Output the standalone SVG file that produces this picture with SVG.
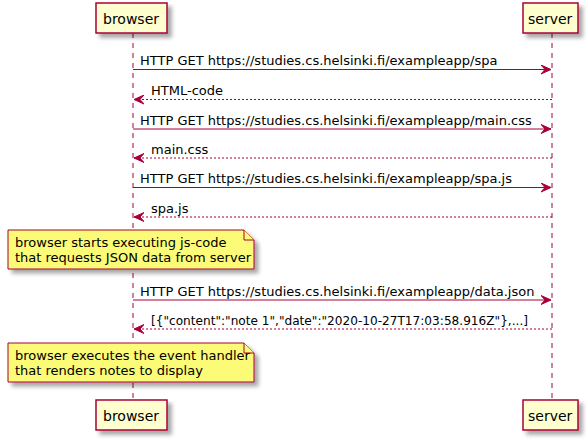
<svg xmlns="http://www.w3.org/2000/svg" width="588" height="441" viewBox="0 0 588 441">
<defs>
<filter id="sh" x="-10%" y="-10%" width="130%" height="150%">
<feGaussianBlur in="SourceAlpha" stdDeviation="2"/>
<feOffset dx="4" dy="4" result="b"/>
<feComponentTransfer><feFuncA type="linear" slope="0.35"/></feComponentTransfer>
<feMerge><feMergeNode/><feMergeNode in="SourceGraphic"/></feMerge>
</filter>
<marker id="ah" viewBox="0 0 11 10" refX="10" refY="5" markerWidth="11" markerHeight="10" markerUnits="userSpaceOnUse" orient="auto">
<polygon points="0,0.5 10,5 0,9.5 4,5" fill="#A80036" stroke="#A80036" stroke-width="1"/>
</marker>
</defs>
<style>
.life{stroke:#A80036;stroke-width:1;stroke-dasharray:5,5;fill:none}
.box{fill:#FEFECE;stroke:#A80036;stroke-width:1.5}
.note{fill:#FBFB77;stroke:#A80036;stroke-width:1}
.pt{font-family:"DejaVu Sans",sans-serif;font-size:14px;fill:#000}
.t{font-family:"DejaVu Sans",sans-serif;font-size:13px;fill:#000}
.msg{stroke:#A80036;stroke-width:1;fill:none;marker-end:url(#ah)}
.ret{stroke:#A80036;stroke-width:1;fill:none;stroke-dasharray:2,2;marker-end:url(#ah)}
</style>
<rect width="588" height="441" fill="#FFFFFF"/>
<g id="lifelines">
<line class="life" x1="133" y1="33" x2="133" y2="400"/>
<line class="life" x1="552" y1="33" x2="552" y2="400"/>
</g>
<g id="browser">
<rect class="box" x="96" y="3" width="71" height="30" filter="url(#sh)"/>
<text class="pt" x="103" y="23.5">browser</text>
</g>
<g id="server">
<rect class="box" x="523" y="3" width="55" height="30" filter="url(#sh)"/>
<text class="pt" x="528" y="23.5">server</text>
</g>
<g id="browser-bottom">
<rect class="box" x="96" y="400" width="71" height="30" filter="url(#sh)"/>
<text class="pt" x="103" y="421">browser</text>
</g>
<g id="server-bottom">
<rect class="box" x="523" y="400" width="55" height="30" filter="url(#sh)"/>
<text class="pt" x="528" y="421">server</text>
</g>
<g id="connectors">
<line class="msg" x1="133" y1="69.5" x2="551" y2="69.5"/>
<text class="t" x="140" y="65">HTTP GET https://studies.cs.helsinki.fi/exampleapp/spa</text>
<line class="ret" x1="552" y1="99.5" x2="134" y2="99.5"/>
<text class="t" x="151" y="94.5">HTML-code</text>
<line class="msg" x1="133" y1="129" x2="551" y2="129"/>
<text class="t" x="140" y="124.5">HTTP GET https://studies.cs.helsinki.fi/exampleapp/main.css</text>
<line class="ret" x1="552" y1="158" x2="134" y2="158"/>
<text class="t" x="151" y="153.5">main.css</text>
<line class="msg" x1="133" y1="187.5" x2="551" y2="187.5"/>
<text class="t" x="140" y="183">HTTP GET https://studies.cs.helsinki.fi/exampleapp/spa.js</text>
<line class="ret" x1="552" y1="217" x2="134" y2="217"/>
<text class="t" x="151" y="212.5">spa.js</text>
<line class="msg" x1="133" y1="300" x2="551" y2="300"/>
<text class="t" x="140" y="295.5">HTTP GET https://studies.cs.helsinki.fi/exampleapp/data.json</text>
<line class="ret" x1="552" y1="329" x2="134" y2="329"/>
<text class="t" x="151" y="324.5" textLength="377" lengthAdjust="spacingAndGlyphs">[{"content":"note 1","date":"2020-10-27T17:03:58.916Z"},...]</text>
</g>
<g id="note1">
<path class="note" d="M8,230 L244,230 L254,240 L254,269 L8,269 Z" filter="url(#sh)"/>
<path class="note" d="M244,230 L244,240 L254,240"/>
<text class="t" x="15" y="247">browser starts executing js-code</text>
<text class="t" x="15" y="262">that requests JSON data from server</text>
</g>
<g id="note2">
<path class="note" d="M8,343 L244,343 L254,353 L254,382 L8,382 Z" filter="url(#sh)"/>
<path class="note" d="M244,343 L244,353 L254,353"/>
<text class="t" x="15" y="360">browser executes the event handler</text>
<text class="t" x="15" y="375">that renders notes to display</text>
</g>
</svg>
